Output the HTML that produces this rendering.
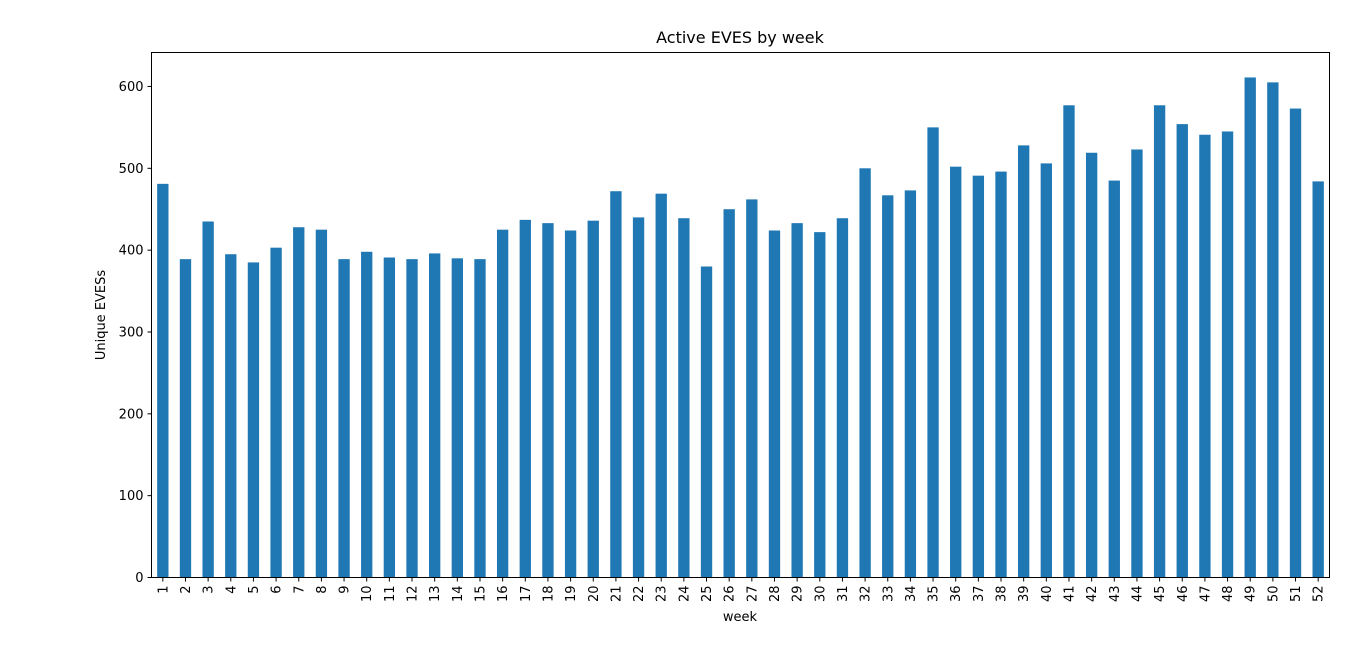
<!DOCTYPE html>
<html><head><meta charset="utf-8"><style>
body{margin:0;background:#fff;}
svg text{font-family:"DejaVu Sans","Liberation Sans",sans-serif;fill:#000;}
</style></head><body>
<svg id="chart" width="1366" height="663">
<text x="740" y="43" font-size="16" text-anchor="middle">Active EVES by week</text>
<g id="yaxis"></g>
<g id="xaxis"></g>
<g id="bars"></g>
<rect x="151.5" y="52.5" width="1178" height="525" fill="none" stroke="#000" stroke-width="1"/>
<text x="740" y="621" font-size="13" text-anchor="middle">week</text>
<text transform="translate(105,315) rotate(-90)" font-size="13" text-anchor="middle">Unique EVESs</text>
</svg>
<script>
const weeks = Array.from({length:52},(_,i)=>String(i+1));
const values = [481,389,435,395,385,403,428,425,389,398,391,389,396,390,389,425,437,433,424,436,472,440,469,439,380,450,462,424,433,422,439,500,467,473,550,502,491,496,528,506,577,519,485,523,577,554,541,545,611,605,573,484];
const yTicks = [0,100,200,300,400,500,600];
const NS='http://www.w3.org/2000/svg';
const L=151.5,R=1329.5,T=52.5,B=577.5,yMax=641.5;
const y=v=>B-(v/yMax)*(B-T);
const step=(R-L)/weeks.length;
const x=i=>L+step*(i+0.5);
const bars=document.getElementById('bars'),ya=document.getElementById('yaxis'),xa=document.getElementById('xaxis');
yTicks.forEach(t=>{
  const l=document.createElementNS(NS,'line');
  l.setAttribute('x1',L-4);l.setAttribute('x2',L);l.setAttribute('y1',y(t));l.setAttribute('y2',y(t));l.setAttribute('stroke','#000');
  
  
  ya.appendChild(l);
  const tx=document.createElementNS(NS,'text');
  tx.setAttribute('x',L-8);tx.setAttribute('y',y(t)+4.5);tx.setAttribute('text-anchor','end');tx.setAttribute('font-size','13');
  tx.textContent=t;
  
  
  ya.appendChild(tx);
});
values.forEach((v,i)=>{
  const r=document.createElementNS(NS,'rect');
  r.setAttribute('x',x(i)-step/4);r.setAttribute('width',step/2);
  r.setAttribute('y',y(v));r.setAttribute('height',B-y(v));r.setAttribute('fill','#1f77b4');
  
  
  bars.appendChild(r);
  const l=document.createElementNS(NS,'line');
  l.setAttribute('x1',x(i));l.setAttribute('x2',x(i));l.setAttribute('y1',B);l.setAttribute('y2',B+4);l.setAttribute('stroke','#000');
  
  
  xa.appendChild(l);
  const tx=document.createElementNS(NS,'text');
  tx.setAttribute('transform','translate('+(x(i)+4.5)+','+(B+8)+') rotate(-90)');
  tx.setAttribute('text-anchor','end');tx.setAttribute('font-size','13');
  tx.textContent=weeks[i];
  
  
  xa.appendChild(tx);
});
</script>
</body></html>
